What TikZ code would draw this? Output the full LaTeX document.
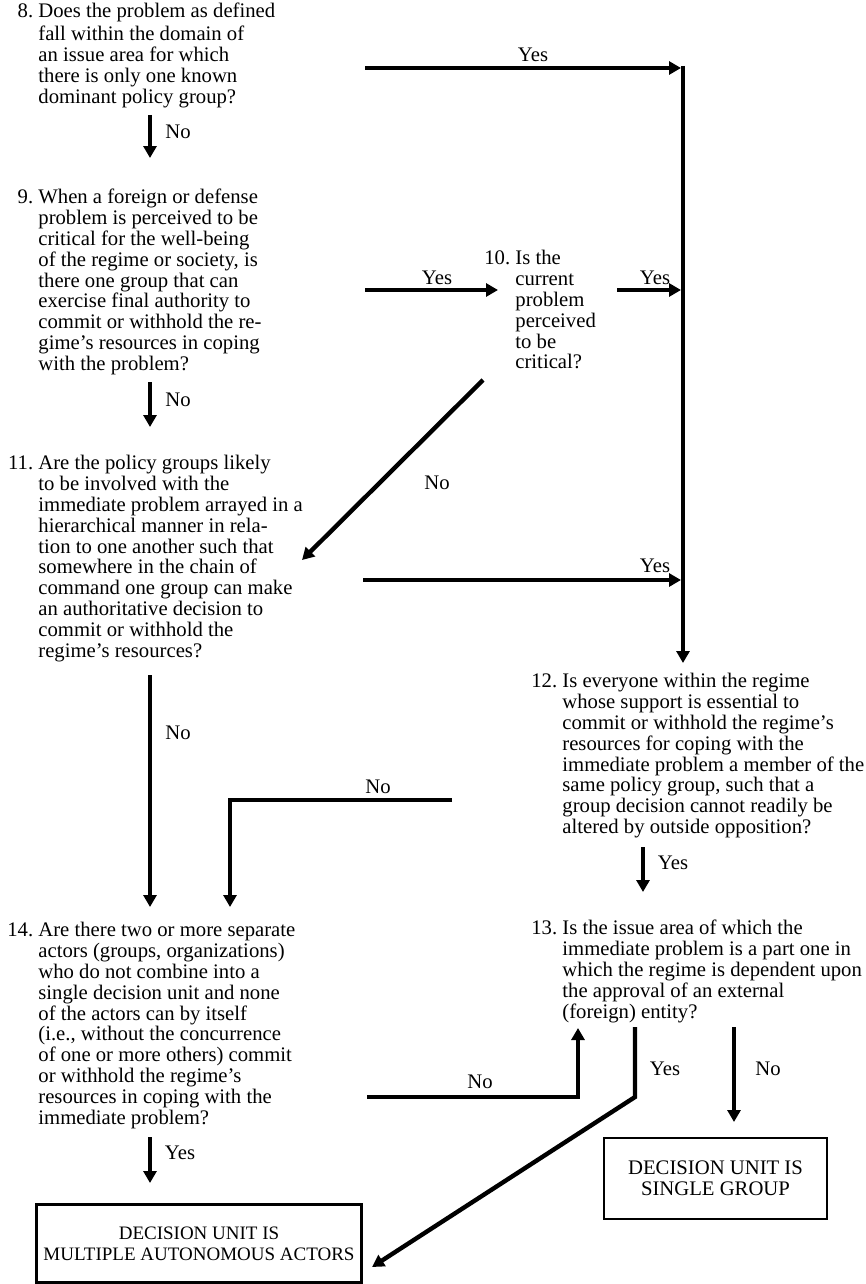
\documentclass[tikz,border=0pt]{standalone}
\usepackage{fontspec}
\setmainfont{Liberation Serif}
\usetikzlibrary{arrows.meta}
\newcommand\qfont{\fontsize{10.35pt}{10.4pt}\selectfont}
\tikzset{
  question/.style={anchor=north west, inner sep=0pt, align=left, font=\qfont},
  answer/.style={inner sep=0pt, font=\qfont},
  outcome/.style={rectangle, draw, line width=1.4pt, align=center, font=\qfont},
  flow/.style={-{Triangle[length=6pt,width=6.5pt]}, line width=2.2pt, line join=miter}
}

\begin{document}
\begin{tikzpicture}[x=0.5pt, y=-0.5pt]
\useasboundingbox (0,0) rectangle (866,1284);

% questions
\node[question] (q8) at (38,3) {\strut\llap{8.\ }Does the problem as defined\\
fall within the domain of\\
an issue area for which\\
there is only one known\\
dominant policy group?};
\node[question] (q9) at (38,189) {\strut\llap{9.\ }When a foreign or defense\\
problem is perceived to be\\
critical for the well-being\\
of the regime or society, is\\
there one group that can\\
exercise final authority to\\
commit or withhold the re-\\
gime's resources in coping\\
with the problem?};
\node[question] (q10) at (515,250) {\strut\llap{10.\ }Is the\\
current\\
problem\\
perceived\\
to be\\
critical?};
\node[question] (q11) at (38,455) {\strut\llap{11.\ }Are the policy groups likely\\
to be involved with the\\
immediate problem arrayed in a\\
hierarchical manner in rela-\\
tion to one another such that\\
somewhere in the chain of\\
command one group can make\\
an authoritative decision to\\
commit or withhold the\\
regime's resources?};
\node[question] (q12) at (562,673) {\strut\llap{12.\ }Is everyone within the regime\\
whose support is essential to\\
commit or withhold the regime's\\
resources for coping with the\\
immediate problem a member of the\\
same policy group, such that a\\
group decision cannot readily be\\
altered by outside opposition?};
\node[question] (q13) at (562,920) {\strut\llap{13.\ }Is the issue area of which the\\
immediate problem is a part one in\\
which the regime is dependent upon\\
the approval of an external\\
(foreign) entity?};
\node[question] (q14) at (38,922) {\strut\llap{14.\ }Are there two or more separate\\
actors (groups, organizations)\\
who do not combine into a\\
single decision unit and none\\
of the actors can by itself\\
(i.e., without the concurrence\\
of one or more others) commit\\
or withhold the regime's\\
resources in coping with the\\
immediate problem?};

% outcomes
\node[outcome, minimum width=111.5pt, minimum height=40.5pt] (single) at (715.5,1178.5) {DECISION UNIT IS\\SINGLE GROUP};
\node[outcome, minimum width=161pt, minimum height=39pt, font=\fontsize{9.5pt}{10.4pt}\selectfont] (multiple) at (199,1243.5) {DECISION UNIT IS\\MULTIPLE AUTONOMOUS ACTORS};

% connector ends
\coordinate (trunk top) at (683,66);
\coordinate (trunk end) at (683,663);
\coordinate (y8 start) at (365,68);
\coordinate (y8 end) at (681,68);
\coordinate (n8 start) at (150,115);
\coordinate (n8 end) at (150,158);
\coordinate (y9 start) at (365,290);
\coordinate (y9 end) at (498,290);
\coordinate (y10 start) at (617,290);
\coordinate (y10 end) at (681,290);
\coordinate (n9 start) at (150,382);
\coordinate (n9 end) at (150,427);
\coordinate (n10 start) at (483,380);
\coordinate (n10 end) at (302,560);
\coordinate (y11 start) at (363,580);
\coordinate (y11 end) at (681,580);
\coordinate (n11 start) at (150,675);
\coordinate (n11 end) at (150,907);
\coordinate (n12 start) at (452,800);
\coordinate (n12 bend) at (230,800);
\coordinate (n12 end) at (230,907);
\coordinate (y12 start) at (643,847);
\coordinate (y12 end) at (643,892);
\coordinate (n14 start) at (367,1097);
\coordinate (n14 bend) at (578,1097);
\coordinate (n14 end) at (578,1028);
\coordinate (y13 start) at (635,1027);
\coordinate (y13 bend) at (635,1097);
\coordinate (y13 end) at (372,1267);
\coordinate (n13 start) at (734,1027);
\coordinate (n13 end) at (734,1122);
\coordinate (y14 start) at (150,1137);
\coordinate (y14 end) at (150,1183);

% connectors
\draw[flow] (trunk top) -- (trunk end);
\draw[flow] (y8 start) -- (y8 end);
\draw[flow] (n8 start) -- (n8 end);
\draw[flow] (y9 start) -- (y9 end);
\draw[flow] (y10 start) -- (y10 end);
\draw[flow] (n9 start) -- (n9 end);
\draw[flow] (n10 start) -- (n10 end);
\draw[flow] (y11 start) -- (y11 end);
\draw[flow] (n11 start) -- (n11 end);
\draw[flow] (n12 start) -- (n12 bend) -- (n12 end);
\draw[flow] (y12 start) -- (y12 end);
\draw[flow] (n14 start) -- (n14 bend) -- (n14 end);
\draw[flow] (y13 start) -- (y13 bend) -- (y13 end);
\draw[flow] (n13 start) -- (n13 end);
\draw[flow] (y14 start) -- (y14 end);

% answers
\node[answer] (a8y) at (533,55) {Yes};
\node[answer] (a8n) at (178,132) {No};
\node[answer] (a9y) at (437,278) {Yes};
\node[answer] (a10y) at (655,278) {Yes};
\node[answer] (a9n) at (178,400) {No};
\node[answer] (a10n) at (437,483) {No};
\node[answer] (a11y) at (655,566) {Yes};
\node[answer] (a11n) at (178,733) {No};
\node[answer] (a12n) at (378,787) {No};
\node[answer] (a12y) at (673,863) {Yes};
\node[answer] (a14n) at (480,1082) {No};
\node[answer] (a13y) at (665,1069) {Yes};
\node[answer] (a13n) at (768,1069) {No};
\node[answer] (a14y) at (180,1153) {Yes};
\end{tikzpicture}
\end{document}
